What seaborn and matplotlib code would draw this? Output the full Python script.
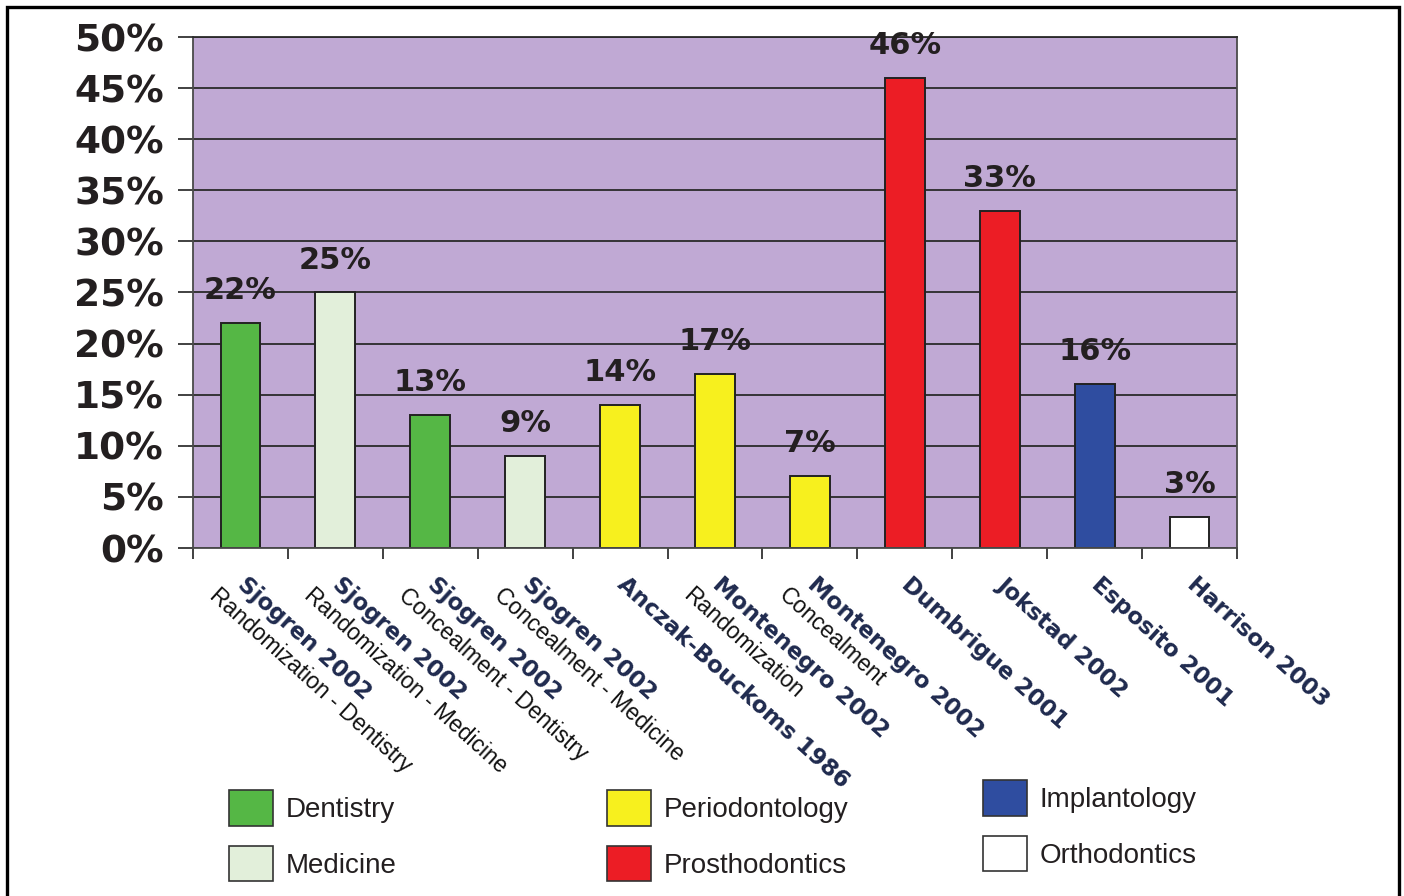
import matplotlib
matplotlib.use("Agg")
import matplotlib.pyplot as plt
import seaborn as sns
import pandas as pd
import numpy as np
from matplotlib.patches import Patch, Rectangle
from matplotlib.ticker import FuncFormatter

# ---------------- data ----------------
studies = ["Sjogren 2002", "Sjogren 2002", "Sjogren 2002", "Sjogren 2002",
           "Anczak-Bouckoms 1986", "Montenegro 2002", "Montenegro 2002",
           "Dumbrigue 2001", "Jokstad 2002", "Esposito 2001", "Harrison 2003"]
subtitles = ["Randomization - Dentistry", "Randomization - Medicine",
             "Concealment - Dentistry", "Concealment - Medicine", "",
             "Randomization", "Concealment", "", "", "", ""]
groups = ["Dentistry", "Medicine", "Dentistry", "Medicine", "Periodontology",
          "Periodontology", "Periodontology", "Prosthodontics", "Prosthodontics",
          "Implantology", "Orthodontics"]
values = [22, 25, 13, 9, 14, 17, 7, 46, 33, 16, 3]
group_order = ["Dentistry", "Medicine", "Periodontology", "Prosthodontics",
               "Implantology", "Orthodontics"]
group_colors = ["#55B745", "#E2EFDA", "#F7F01E", "#EC1D25", "#2F4DA0", "#FFFFFF"]
y_ticks = [0, 5, 10, 15, 20, 25, 30, 35, 40, 45, 50]

labels = [f"{s}\n{t}" for s, t in zip(studies, subtitles)]
df = pd.DataFrame({"label": labels, "group": groups, "value": values})

# ---------------- figure ----------------
sns.set_theme(style="white")
plt.rcParams["font.family"] = ["DejaVu Sans"]

W, H = 1404, 896
fig = plt.figure(figsize=(W / 100, H / 100), dpi=100)
fig.patch.set_facecolor("white")
ax = fig.add_axes([193 / W, 1 - 548 / H, (1237 - 193) / W, (548 - 37) / H])
ax.set_facecolor("#C0A9D4")

sns.barplot(data=df, x="label", y="value", hue="group", order=labels,
            hue_order=group_order, palette=group_colors, dodge=False,
            width=0.42, edgecolor="#222222", linewidth=1.4, legend=False,
            saturation=1, ax=ax)

ax.set_xlim(-0.5, len(labels) - 0.5)
ax.set_ylim(0, 50)
ax.set_yticks(y_ticks)
ax.yaxis.set_major_formatter(FuncFormatter(lambda v, p: f"{v:.0f}%"))
ax.yaxis.grid(True, color="#2a2a2a", lw=1.3)
ax.set_axisbelow(True)
ax.set_xlabel("")
ax.set_ylabel("")

for s in ["left", "right", "bottom", "top"]:
    ax.spines[s].set_visible(True)
    ax.spines[s].set_color("#4a4a4a")
    ax.spines[s].set_linewidth(1.3)
ax.spines["top"].set_color("#2a2a2a")

ax.tick_params(axis="y", which="major", direction="out", length=11, width=1.3,
               color="#333333", pad=10, labelsize=27, labelcolor="#231F20", left=True)
for t in ax.get_yticklabels():
    t.set_fontweight("bold")

ax.set_xticks(range(len(labels)))
ax.set_xticklabels([])
ax.tick_params(axis="x", which="major", length=0, bottom=False)
ax.set_xticks(np.arange(-0.5, len(labels), 1), minor=True)
ax.tick_params(axis="x", which="minor", direction="out", length=8, width=1.3,
               color="#333333", bottom=True)

# value labels
for i, v in enumerate(values):
    ax.annotate(f"{v}%", xy=(i, v), xytext=(0, 18), textcoords="offset pixels",
                ha="center", va="bottom", fontsize=22, fontweight="bold",
                color="#231F20")

# rotated two-line category labels
ang = 42
u = np.array([np.cos(np.radians(ang)), -np.sin(np.radians(ang))])
p = np.array([-np.sin(np.radians(ang)), -np.cos(np.radians(ang))])
off2 = -14 * u + 27 * p
for i, (s, t) in enumerate(zip(studies, subtitles)):
    ax.annotate(s, xy=(i, 0), xycoords=("data", "axes fraction"),
                xytext=(8, -25), textcoords="offset pixels",
                rotation=-ang, rotation_mode="anchor", ha="left", va="top",
                fontsize=16.5, fontweight="bold", color="#1F2A4E",
                annotation_clip=False)
    if t:
        ax.annotate(t, xy=(i, 0), xycoords=("data", "axes fraction"),
                    xytext=(8 + off2[0], -25 + off2[1]), textcoords="offset pixels",
                    rotation=-ang, rotation_mode="anchor", ha="left", va="top",
                    fontsize=16.5, family="Liberation Sans", color="#111111",
                    annotation_clip=False)

# legend (three columns)
handles = {g: Patch(facecolor=c, edgecolor="#333333", linewidth=1.2)
           for g, c in zip(group_order, group_colors)}
cols = [(["Dentistry", "Medicine"], 229, 790),
        (["Periodontology", "Prosthodontics"], 607, 790),
        (["Implantology", "Orthodontics"], 983, 780)]
for names, x0, y0 in cols:
    leg = fig.legend([handles[n] for n in names], names, loc="upper left",
                     bbox_to_anchor=(x0 / W, 1 - y0 / H), frameon=False,
                     borderpad=0, borderaxespad=0, handlelength=1.6,
                     handleheight=1.6, handletextpad=0.45, labelspacing=0.72,
                     prop={"family": "Liberation Sans", "size": 20})
    for txt in leg.get_texts():
        txt.set_color("#231F20")

# outer frame
fig.add_artist(Rectangle((7 / W, -0.05), (1399 - 7) / W, (1 - 7 / H) + 0.05,
                         transform=fig.transFigure, fill=False,
                         edgecolor="black", lw=2.4, clip_on=False))

fig.savefig("out.png", dpi=100)
